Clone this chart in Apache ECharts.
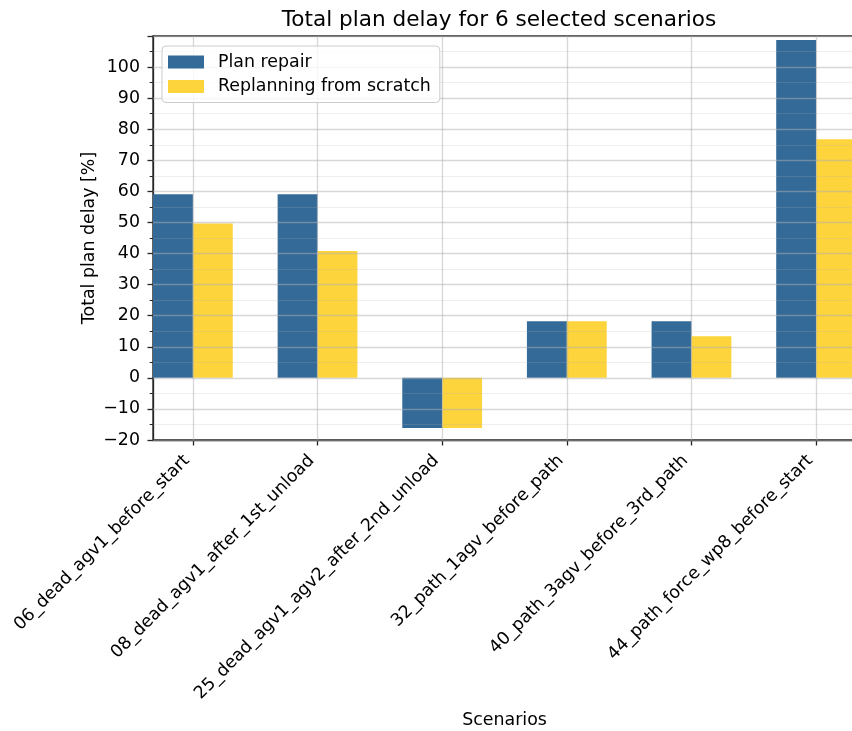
<!DOCTYPE html>
<html>
<head>
<meta charset="utf-8">
<script src="https://cdn.jsdelivr.net/npm/echarts@6/dist/echarts.min.js"></script>
<style>
  html, body { margin: 0; padding: 0; background: #fff; }
  #chart { width: 852px; height: 731px; }
</style>
</head>
<body>
<div id="chart"></div>
<script>
// Scenario names (x categories)
const scenarios = [
  '06_dead_agv1_before_start',
  '08_dead_agv1_after_1st_unload',
  '25_dead_agv1_agv2_after_2nd_unload',
  '32_path_1agv_before_path',
  '40_path_3agv_before_3rd_path',
  '44_path_force_wp8_before_start'
];

// Total plan delay [%] per scenario
const planRepair = [59.1, 59.1, -16.1, 18.2, 18.2, 108.7];
const replanning = [49.7, 40.8, -16.1, 18.2, 13.4, 76.8];

const seriesNames = ['Plan repair', 'Replanning from scratch'];

const FONT = 'DejaVu Sans';
const FS = 17.4;
const GRID_MAJOR = 'rgba(176,176,176,0.5)';
const GRID_MINOR = 'rgba(176,176,176,0.22)';
const SPINE = '#262626';

// Bars sit on a numeric x axis: category i is centred at x = i,
// each bar is 0.32 of a category wide
const xMin = -0.32, xMax = scenarios.length - 1 + 0.32;
const catIdx = scenarios.map((_, i) => i);

const minusFmt = v => String(v).replace('-', '\u2212');

const gridRect = { left: 153, top: 36, width: 703, height: 404, outerBoundsMode: 'none', containLabel: false };

const chart = echarts.init(document.getElementById('chart'), null, { renderer: 'canvas' });

chart.setOption({
  animation: false,
  backgroundColor: '#ffffff',
  textStyle: { fontFamily: FONT },
  title: {
    text: 'Total plan delay for 6 selected scenarios',
    left: 499,
    top: 9,
    padding: 0,
    textAlign: 'center',
    textStyle: { fontFamily: FONT, fontSize: 21.6, fontWeight: 'normal', color: '#000' }
  },
  legend: {
    data: seriesNames,
    orient: 'vertical',
    left: 162,
    top: 46,
    icon: 'rect',
    itemWidth: 36,
    itemHeight: 13,
    itemGap: 4.5,
    padding: [6, 9, 6, 6],
    backgroundColor: 'rgba(255,255,255,0.8)',
    borderColor: '#cccccc',
    borderWidth: 1,
    borderRadius: 4,
    z: 10,
    selectedMode: false,
    textStyle: { fontFamily: FONT, fontSize: FS, color: '#000', lineHeight: 20, padding: [0, 0, 0, 9] }
  },
  grid: [
    Object.assign({ show: true, borderColor: SPINE, borderWidth: 1.3, backgroundColor: 'transparent' }, gridRect),
    Object.assign({}, gridRect)
  ],
  xAxis: [
    {
      type: 'value',
      gridIndex: 0,
      min: xMin,
      max: xMax,
      name: 'Scenarios',
      nameLocation: 'middle',
      nameGap: 272,
      nameMoveOverlap: false,
      nameTextStyle: { fontFamily: FONT, fontSize: FS, color: '#000', verticalAlign: 'top' },
      axisLine: { show: true, onZero: false, lineStyle: { color: SPINE, width: 1.3 } },
      axisTick: { show: true, length: 5.5, customValues: catIdx, lineStyle: { color: SPINE, width: 1.3 } },
      axisLabel: {
        show: true,
        customValues: catIdx,
        rotate: 45,
        margin: 24,
        verticalAlign: 'bottom',
        fontFamily: FONT,
        fontSize: FS,
        color: '#000',
        formatter: v => scenarios[Math.round(v)]
      },
      splitLine: { show: false }
    },
    {
      type: 'value',
      gridIndex: 1,
      min: xMin,
      max: xMax,
      show: false
    }
  ],
  yAxis: [
    {
      type: 'value',
      gridIndex: 0,
      min: -20,
      max: 110,
      interval: 10,
      name: 'Total plan delay [%]',
      nameLocation: 'middle',
      nameGap: 55,
      nameMoveOverlap: false,
      nameRotate: 90,
      nameTextStyle: { fontFamily: FONT, fontSize: FS, color: '#000' },
      axisLine: { show: true, onZero: false, lineStyle: { color: SPINE, width: 1.3 } },
      axisTick: { show: true, length: 5.5, lineStyle: { color: SPINE, width: 1.3 } },
      minorTick: { show: true, splitNumber: 2, length: 3.3, lineStyle: { color: SPINE, width: 1 } },
      axisLabel: {
        margin: 13,
        fontFamily: FONT,
        fontSize: FS,
        color: '#000',
        formatter: minusFmt,
        showMaxLabel: false
      },
      splitLine: { show: false }
    },
    {
      // overlay axis drawing the horizontal grid lines above the bars
      type: 'value',
      gridIndex: 1,
      min: -20,
      max: 110,
      interval: 10,
      z: 5,
      axisLine: { show: false },
      axisTick: { show: false },
      axisLabel: { show: false },
      minorTick: { show: false, splitNumber: 2 },
      splitLine: { show: true, lineStyle: { color: GRID_MAJOR, width: 1.3 } },
      minorSplitLine: { show: true, lineStyle: { color: GRID_MINOR, width: 1 } }
    }
  ],
  series: [
    {
      name: seriesNames[0],
      type: 'bar',
      xAxisIndex: 0,
      yAxisIndex: 0,
      barWidth: 39.9,
      barGap: '0%',
      itemStyle: { color: '#336a98' },
      data: planRepair.map((v, i) => [i, v])
    },
    {
      name: seriesNames[1],
      type: 'bar',
      xAxisIndex: 0,
      yAxisIndex: 0,
      barWidth: 39.9,
      barGap: '0%',
      itemStyle: { color: '#fdd43b' },
      data: replanning.map((v, i) => [i, v])
    },
    {
      // vertical grid lines at each scenario, drawn above the bars
      name: 'category grid',
      type: 'line',
      xAxisIndex: 1,
      yAxisIndex: 1,
      data: [],
      silent: true,
      markLine: {
        silent: true,
        symbol: ['none', 'none'],
        label: { show: false },
        z: 5,
        lineStyle: { type: 'solid', color: GRID_MAJOR, width: 1.3 },
        emphasis: { disabled: true },
        data: catIdx.map(i => ({ xAxis: i }))
      }
    }
  ]
});
</script>
</body>
</html>
